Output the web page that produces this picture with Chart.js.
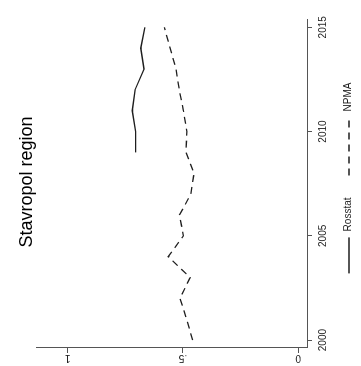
<!DOCTYPE html>
<html>
<head>
<meta charset="utf-8">
<script src="https://cdn.jsdelivr.net/npm/chart.js@4/dist/chart.umd.min.js"></script>
<style>
  html, body { margin: 0; padding: 0; background: #fff; overflow: hidden; width: 361px; height: 366px; }
  /* the plot is laid out landscape and turned a quarter turn counter-clockwise */
  #wrap { position: absolute; left: 0; top: 0; width: 366px; height: 361px;
          transform-origin: 0 0; transform: translateY(366px) rotate(-90deg); }
  canvas { display: block; }
</style>
</head>
<body>
<div id="wrap"><canvas id="c" width="366" height="361"></canvas></div>
<script>
// Share series for the Stavropol region
const years = [2000, 2001, 2002, 2003, 2004, 2005, 2006, 2007, 2008, 2009, 2010, 2011, 2012, 2013, 2014, 2015];
const npma = [0.458, 0.484, 0.513, 0.469, 0.564, 0.498, 0.515, 0.466, 0.452, 0.487, 0.483, 0.498, 0.516, 0.530, 0.556, 0.581];
const rosstatYears = [2009, 2010, 2011, 2012, 2013, 2014, 2015];
const rosstat = [0.705, 0.705, 0.720, 0.708, 0.669, 0.683, 0.665];

const yearTicks = [2000, 2005, 2010, 2015];
const shareTicks = [0, 0.5, 1];
const shareTickLabels = ['0', '.5', '1'];
const titleText = 'Stavropol region';

const FONT = '"Liberation Sans", Arial, sans-serif';
const AXIS = '#555';
const INK = '#1e1e1e';

const toPoints = (xs, ys) => xs.map((x, i) => ({ x: x, y: ys[i] }));

// title centred on the whole canvas, above the plot region
const canvasTitle = {
  id: 'canvasTitle',
  afterDraw(chart) {
    const ctx = chart.ctx;
    ctx.save();
    ctx.font = '18px ' + FONT;
    ctx.fillStyle = '#000';
    ctx.textAlign = 'center';
    ctx.textBaseline = 'middle';
    ctx.fillText(titleText, chart.width / 2 + 1, 27);
    ctx.restore();
  }
};

// legend drawn under the year axis: short solid key, longer dashed key
const bottomLegend = {
  id: 'bottomLegend',
  afterDraw(chart) {
    const ctx = chart.ctx;
    const keyLens = [36, 58];
    const gap = 6, itemGap = 22;
    ctx.save();
    ctx.font = '10px ' + FONT;
    const items = chart.data.datasets.map((ds, i) => ({
      ds: ds, key: keyLens[i], w: ctx.measureText(ds.label).width
    }));
    const total = items.reduce((s, it) => s + it.key + gap + it.w, 0) + itemGap * (items.length - 1);
    let x = chart.width / 2 + 5 - total / 2;
    const y = 349;
    items.forEach(it => {
      ctx.strokeStyle = it.ds.borderColor;
      ctx.lineWidth = it.ds.borderWidth;
      ctx.setLineDash(it.ds.borderDash || []);
      ctx.beginPath();
      ctx.moveTo(x, y);
      ctx.lineTo(x + it.key, y);
      ctx.stroke();
      ctx.setLineDash([]);
      x += it.key + gap;
      ctx.fillStyle = '#222';
      ctx.textAlign = 'left';
      ctx.textBaseline = 'middle';
      ctx.fillText(it.ds.label, x, y - 1);
      x += it.w + itemGap;
    });
    ctx.restore();
  }
};

new Chart(document.getElementById('c'), {
  type: 'line',
  data: {
    datasets: [
      {
        label: 'Rosstat',
        data: toPoints(rosstatYears, rosstat),
        borderColor: INK,
        borderWidth: 1.3,
        pointRadius: 0,
        tension: 0,
        fill: false
      },
      {
        label: 'NPMA',
        data: toPoints(years, npma),
        borderColor: INK,
        borderWidth: 1.3,
        borderDash: [7, 5],
        pointRadius: 0,
        tension: 0,
        fill: false
      }
    ]
  },
  options: {
    responsive: false,
    maintainAspectRatio: false,
    animation: false,
    devicePixelRatio: 1,
    layout: { padding: { left: 0, right: 20, top: 36, bottom: 0 } },
    plugins: {
      legend: { display: false },
      tooltip: { enabled: false },
      title: { display: false }
    },
    scales: {
      x: {
        type: 'linear',
        min: 1999.62,
        max: 2015.35,
        afterBuildTicks: s => { s.ticks = yearTicks.map(v => ({ value: v })); },
        afterFit: s => { s.height = 54; },
        grid: { display: true, drawOnChartArea: false, drawTicks: true, tickLength: 5, color: AXIS, lineWidth: 1 },
        border: { display: true, color: AXIS, width: 1 },
        ticks: {
          color: '#222',
          font: { family: FONT, size: 10 },
          padding: 5,
          maxRotation: 0,
          minRotation: 0,
          callback: v => String(v)
        }
      },
      y: {
        type: 'linear',
        min: -0.038,
        max: 1.1375,
        afterBuildTicks: s => { s.ticks = shareTicks.map(v => ({ value: v })); },
        afterFit: s => { s.width = 18; },
        grid: { display: true, drawOnChartArea: false, drawTicks: true, tickLength: 5, color: AXIS, lineWidth: 1 },
        border: { display: true, color: AXIS, width: 1 },
        ticks: {
          color: '#222',
          font: { family: FONT, size: 10 },
          padding: 1,
          minRotation: 90,
          maxRotation: 90,
          crossAlign: 'center',
          callback: v => shareTickLabels[shareTicks.indexOf(v)]
        }
      }
    }
  },
  plugins: [canvasTitle, bottomLegend]
});
</script>
</body>
</html>
